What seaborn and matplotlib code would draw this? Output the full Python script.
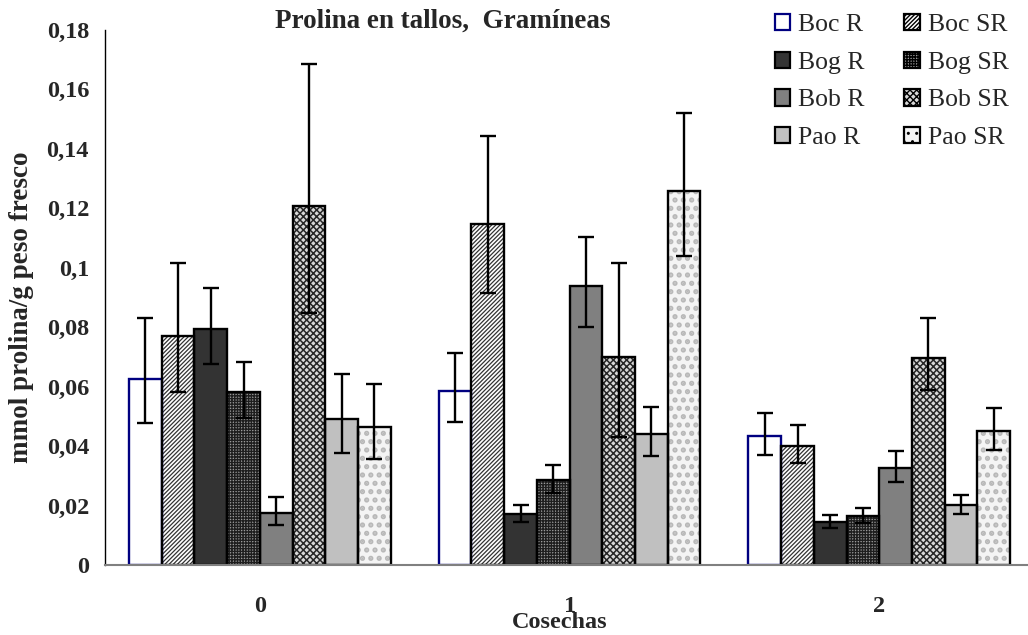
import matplotlib
matplotlib.use("Agg")
import matplotlib.pyplot as plt
from matplotlib.patches import Rectangle, Patch
from matplotlib.ticker import FixedLocator, FuncFormatter
import numpy as np
import pandas as pd
import seaborn as sns

# ---- data: proline content in stems (mmol/g fresh weight) per harvest ----
cosechas = ["0", "1", "2"]
series = ["Boc R", "Boc SR", "Bog R", "Bog SR", "Bob R", "Bob SR", "Pao R", "Pao SR"]

boc_r = [0.0627, 0.0585, 0.0435]
boc_sr = [0.0770, 0.1147, 0.0401]
bog_r = [0.0794, 0.0172, 0.0144]
bog_sr = [0.0581, 0.0286, 0.0166]
bob_r = [0.0176, 0.0940, 0.0327]
bob_sr = [0.1208, 0.0700, 0.0697]
pao_r = [0.0490, 0.0441, 0.0202]
pao_sr = [0.0465, 0.1257, 0.0452]

# lower / upper ends of the error bars
boc_r_inf, boc_r_sup = [0.0478, 0.0480, 0.0371], [0.0830, 0.0712, 0.0510]
boc_sr_inf, boc_sr_sup = [0.0583, 0.0914, 0.0342], [0.1015, 0.1443, 0.0471]
bog_r_inf, bog_r_sup = [0.0676, 0.0146, 0.0123], [0.0931, 0.0201, 0.0168]
bog_sr_inf, bog_sr_sup = [0.0496, 0.0243, 0.0140], [0.0682, 0.0335, 0.0193]
bob_r_inf, bob_r_sup = [0.0134, 0.0801, 0.0279], [0.0230, 0.1103, 0.0385]
bob_sr_inf, bob_sr_sup = [0.0849, 0.0432, 0.0589], [0.1686, 0.1015, 0.0831]
pao_r_inf, pao_r_sup = [0.0377, 0.0367, 0.0172], [0.0642, 0.0532, 0.0236]
pao_sr_inf, pao_sr_sup = [0.0357, 0.1040, 0.0387], [0.0609, 0.1520, 0.0527]

y_ticks = [0, 0.02, 0.04, 0.06, 0.08, 0.10, 0.12, 0.14, 0.16, 0.18]

valores = [boc_r, boc_sr, bog_r, bog_sr, bob_r, bob_sr, pao_r, pao_sr]
inferiores = [boc_r_inf, boc_sr_inf, bog_r_inf, bog_sr_inf,
              bob_r_inf, bob_sr_inf, pao_r_inf, pao_sr_inf]
superiores = [boc_r_sup, boc_sr_sup, bog_r_sup, bog_sr_sup,
              bob_r_sup, bob_sr_sup, pao_r_sup, pao_sr_sup]

df = pd.DataFrame(
    [(c, s, v[i]) for s, v in zip(series, valores) for i, c in enumerate(cosechas)],
    columns=["cosecha", "serie", "valor"],
)

# ---- styles per series: face, hatch, hatch colour, hatch width, outline ----
estilos = {
    "Boc R":  dict(fc="white",   hatch="",         hc="black",   hw=1.0, ec="#000080"),
    "Boc SR": dict(fc="white",   hatch="////////", hc="#333333", hw=0.9, ec="black"),
    "Bog R":  dict(fc="#333333", hatch="",         hc="black",   hw=1.0, ec="black"),
    "Bog SR": dict(fc="#9a9a9a", hatch="++++++",   hc="#1e1e1e", hw=1.0, ec="black"),
    "Bob R":  dict(fc="#808080", hatch="",         hc="black",   hw=1.0, ec="black"),
    "Bob SR": dict(fc="#d8d8d8", hatch="xxxxx",    hc="#262626", hw=1.1, ec="black"),
    "Pao R":  dict(fc="#c0c0c0", hatch="",         hc="black",   hw=1.0, ec="black"),
    "Pao SR": dict(fc="#f4f4f4", hatch="..",       hc="#b8b8b8", hw=2.5, ec="black"),
}

sns.set_style("white")
plt.rcParams["font.family"] = ["Liberation Serif", "DejaVu Serif"]
plt.rcParams["hatch.linewidth"] = 1.0

W, H = 1028, 635
fig = plt.figure(figsize=(W / 100, H / 100), dpi=100)
ax = fig.add_axes([105 / W, 1 - 565 / H, (W - 105) / W, 535 / H])

sns.barplot(data=df, x="cosecha", y="valor", hue="serie",
            order=cosechas, hue_order=series, width=0.845, gap=0,
            errorbar=None, legend=False, ax=ax,
            palette={s: estilos[s]["fc"] for s in series})

for s, cont, inf, sup in zip(series, ax.containers, inferiores, superiores):
    st = estilos[s]
    xs, ys = [], []
    for p in cont.patches:
        # fill + hatch (hatch takes the edge colour), outline drawn on top
        p.set_facecolor(st["fc"])
        p.set_hatch(st["hatch"])
        p.set_edgecolor(st["hc"])
        p.set_linewidth(0)
        if hasattr(p, "set_hatch_linewidth"):
            p.set_hatch_linewidth(st["hw"])
        ax.add_patch(Rectangle(p.get_xy(), p.get_width(), p.get_height(),
                               fill=False, ec=st["ec"], lw=1.7, zorder=3))
        xs.append(p.get_x() + p.get_width() / 2)
        ys.append(p.get_height())
    ys = np.array(ys)
    err = np.vstack([ys - np.array(inf), np.array(sup) - ys])
    ax.errorbar(xs, ys, yerr=err, fmt="none", ecolor="black",
                elinewidth=1.7, capsize=6, capthick=1.7, zorder=4)

# ---- axes ----
ax.set_ylim(0, 0.18)
ax.set_xlim(-0.5, 2.48)
ax.set_xlabel("")
ax.set_ylabel("")
ax.set_yticks(y_ticks)
ax.yaxis.set_major_formatter(FuncFormatter(lambda v, _: f"{v:g}".replace(".", ",")))
ax.tick_params(axis="y", direction="out", length=4.5, width=1, color="black",
               pad=7, labelsize=17.5)
for t in ax.get_yticklabels():
    t.set_fontweight("bold")

ax.set_xticks(range(len(cosechas)))
ax.set_xticklabels(cosechas, fontsize=17.5, fontweight="bold")
ax.tick_params(axis="x", which="major", length=0, pad=22)
ax.xaxis.set_minor_locator(FixedLocator([-0.5, 0.5, 1.5, 2.5]))
ax.tick_params(axis="x", which="minor", direction="out", length=5,
               width=1.2, color="#808080")

for side in ("top", "right"):
    ax.spines[side].set_visible(False)
ax.spines["left"].set_color("black")
ax.spines["left"].set_linewidth(1.0)
ax.spines["bottom"].set_color("#808080")
ax.spines["bottom"].set_linewidth(1.5)
ax.spines["bottom"].set_zorder(5)

# ---- texts ----
fig.text(443 / W, 1 - 21 / H, "Prolina en tallos,  Gramíneas",
         ha="center", va="center", fontsize=19.5, fontweight="bold")
fig.text(22 / W, 1 - 307 / H, "mmol prolina/g peso fresco", rotation=90,
         ha="center", va="center", fontsize=19.5, fontweight="bold")
fig.text(560 / W, 1 - 622 / H, "Cosechas", ha="center", va="center",
         fontsize=17.5, fontweight="bold")

# ---- legend: R series in the first column, SR in the second ----
orden = ["Boc R", "Bog R", "Bob R", "Pao R", "Boc SR", "Bog SR", "Bob SR", "Pao SR"]
handles = []
for s in orden:
    h = Patch(facecolor=estilos[s]["fc"], hatch=estilos[s]["hatch"],
              edgecolor=estilos[s]["ec"], linewidth=1.6)
    handles.append(h)
fig.legend(handles, orden, loc="upper left", bbox_to_anchor=(775 / W, 1 - 14 / H),
           ncol=2, frameon=False, fontsize=18.5, borderpad=0, borderaxespad=0,
           handlelength=0.6, handleheight=0.6, handletextpad=0.3,
           columnspacing=1.55, labelspacing=0.6)

fig.savefig("out.png", dpi=100)
